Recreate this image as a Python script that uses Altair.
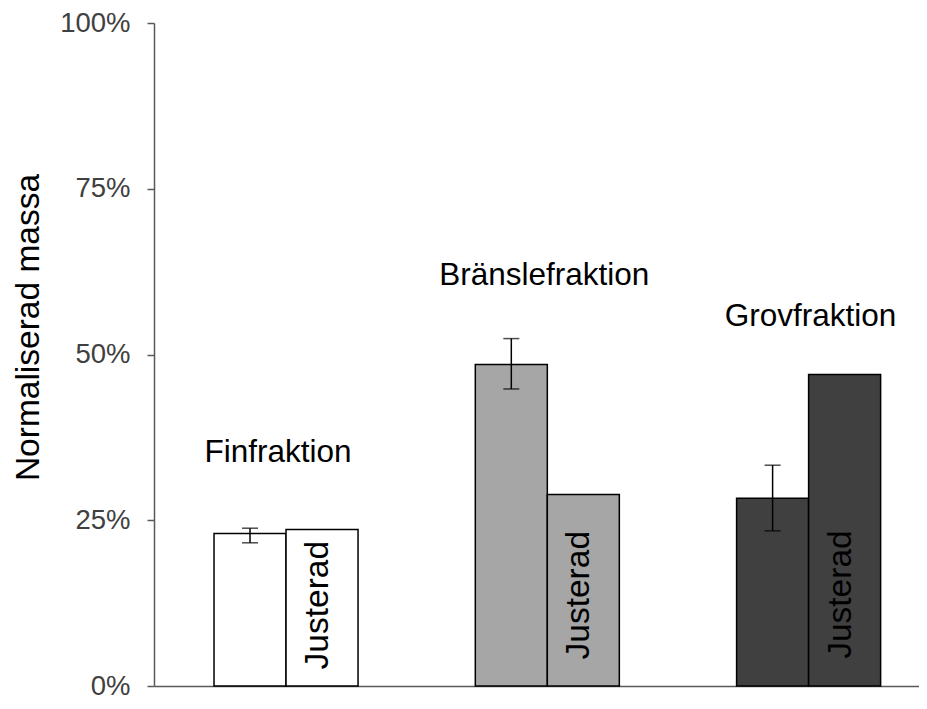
import altair as alt
import pandas as pd

# ---- data ----
groups = ["Finfraktion", "Bränslefraktion", "Grovfraktion"]
kinds = ["orig", "adj"]
original = [0.230, 0.485, 0.283]
adjusted = [0.236, 0.289, 0.470]
err_low = [0.216, 0.448, 0.234]
err_high = [0.238, 0.524, 0.333]
fills = ["#ffffff", "#a6a6a6", "#404040"]
label_y = [0.351, 0.619, 0.557]
label_dx = [-8, -3, 2]
justerad_text = "Justerad"
justerad_y = [0.025, 0.040, 0.041]
y_ticks = [0, 0.25, 0.5, 0.75, 1.0]

FONT = "Liberation Sans"

bars = pd.DataFrame(
    [{"group": g, "kind": "orig", "value": v} for g, v in zip(groups, original)]
    + [{"group": g, "kind": "adj", "value": v} for g, v in zip(groups, adjusted)]
)
errs = pd.DataFrame({"group": groups, "kind": "orig", "lo": err_low, "hi": err_high})
labels = pd.DataFrame({"group": groups, "y": label_y})
just = pd.DataFrame({"group": groups, "kind": "adj", "y": justerad_y, "t": justerad_text})

x_enc = alt.X(
    "group:N",
    sort=groups,
    scale=alt.Scale(domain=groups, paddingInner=0.155, paddingOuter=0.0414, align=1),
    axis=alt.Axis(title=None, labels=False, ticks=False, domainColor="#595959",
                  domainWidth=1.5, grid=False),
)
xoff = alt.XOffset("kind:N", scale=alt.Scale(domain=kinds, paddingInner=0, paddingOuter=0.533))
y_scale = alt.Scale(domain=[0, 1], nice=False)

bar_layer = alt.Chart(bars).mark_bar(stroke="black", strokeWidth=1.5).encode(
    x=x_enc,
    xOffset=xoff,
    y=alt.Y(
        "value:Q",
        scale=y_scale,
        axis=alt.Axis(
            values=y_ticks, format=".0%", grid=False,
            title="Normaliserad massa", titleFont=FONT, titleFontSize=33.5,
            titleFontWeight="normal", titleColor="black", titleAngle=270,
            titleX=-116, titleY=304, titleBaseline="alphabetic", titleAlign="center",
            labelFont=FONT, labelFontSize=27.5, labelColor="#404040", labelPadding=17,
            tickSize=7, tickColor="#595959", tickWidth=1.5,
            domainColor="#595959", domainWidth=1.5,
        ),
    ),
    fill=alt.Fill("group:N", scale=alt.Scale(domain=groups, range=fills), legend=None),
)

err_rule = alt.Chart(errs).mark_rule(color="black", strokeWidth=1.5).encode(
    x=alt.X("group:N", sort=groups), xOffset=xoff,
    y=alt.Y("lo:Q", scale=y_scale), y2="hi:Q",
)
cap_lo = alt.Chart(errs).mark_tick(color="black", thickness=1.5, size=16).encode(
    x=alt.X("group:N", sort=groups), xOffset=xoff, y=alt.Y("lo:Q", scale=y_scale),
)
cap_hi = alt.Chart(errs).mark_tick(color="black", thickness=1.5, size=16).encode(
    x=alt.X("group:N", sort=groups), xOffset=xoff, y=alt.Y("hi:Q", scale=y_scale),
)

# group labels, with small horizontal nudges
group_layers = [
    alt.Chart(labels[labels["group"] == g]).mark_text(
        font=FONT, fontSize=31.5, color="black", align="center", baseline="middle", dx=d
    ).encode(
        x=alt.X("group:N", sort=groups), y=alt.Y("y:Q", scale=y_scale), text="group:N"
    )
    for g, d in zip(groups, label_dx)
]

just_text = alt.Chart(just).mark_text(
    font=FONT, fontSize=33.5, color="black", align="left", baseline="middle",
    angle=270, dy=-4,
).encode(
    x=alt.X("group:N", sort=groups), xOffset=xoff, y=alt.Y("y:Q", scale=y_scale), text="t:N"
)

chart = (
    alt.layer(bar_layer, err_rule, cap_lo, cap_hi, *group_layers, just_text)
    .properties(
        width=765, height=663,
        autosize=alt.AutoSizeParams(type="none"),
        padding={"left": 146, "top": 15, "right": 0, "bottom": 15},
        background="white",
    )
    .configure_view(stroke=None)
)

chart.save("out.html", embed_options={"renderer": "svg", "actions": False})
